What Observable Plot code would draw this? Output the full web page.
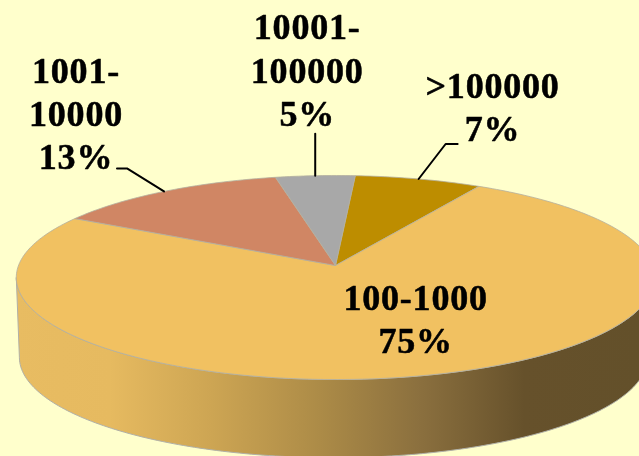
<!DOCTYPE html>
<html>
<head>
<meta charset="utf-8">
<script src="https://cdn.jsdelivr.net/npm/d3@7"></script>
<script src="https://cdn.jsdelivr.net/npm/@observablehq/plot@0.6"></script>
<style>
html,body{margin:0;padding:0;background:#FFFFCC;overflow:hidden}
svg{display:block;filter:blur(0.35px)}
</style>
</head>
<body>
<div id="chart"></div>
<script>
// Data
const categories = [">100000", "100-1000", "1001-\n10000", "10001-\n100000"];
const shares     = [7.2, 74.9, 13.4, 4.5];
const percentLabels = ["7%", "75%", "13%", "5%"];

// Style and layout
const colors = ["#BD8D00", "#F1C161", "#D08664", "#A8A8A8"];
const W = 639, H = 456, CX = 335, CY = 265;
const UX = 317, UY = 100.6, PERSP = 0.1176, DEPTH = 80;
const START = 4.0;
// pixel offsets of labels from each slice's rim point; null = no leader
const labelOffset = [[74, -73], [-14, -57], [-88, -79], [-8, -107]];
const leaderOffset = [[[27, -35], [39, -35]], null, [[-37, -23], [-47, -23]], [[0, -42]]];

const rad = d => d * Math.PI / 180;
// Clockwise-from-top angle on the tilted disc, projected with perspective.
function rim(deg, r = 1, drop = 0, shrink = 1, shift = 0) {
  const X = Math.sin(rad(deg)) * r, Y = Math.cos(rad(deg)) * r;
  const f = shrink / (1 + PERSP * Y);
  return {x: X * f + shift / UX, y: Y * f - drop / UY};
}
const arcPoints = (a, b, drop, shrink, shift) => {
  const n = Math.max(2, Math.ceil(Math.abs(b - a)));
  return d3.range(n + 1).map(i => rim(a + (b - a) * i / n, 1, drop, shrink, shift));
};

const arcs = d3.pie().sort(null).value(d => d)
  .startAngle(rad(START)).endAngle(rad(START + 360))(shares)
  .map(d => ({a: d.startAngle * 180 / Math.PI, b: d.endAngle * 180 / Math.PI}));

const slices = arcs.map(({a, b}) => {
  const pts = [{x: 0, y: 0}, ...arcPoints(a, b, 0, 1, 0), {x: 0, y: 0}];
  return pts;
});

const front = Math.asin(PERSP) * 180 / Math.PI;
const wallA = 90 + front, wallB = 270 - front;
const wall = [...arcPoints(wallA, wallB, 0, 1, 0), ...arcPoints(wallB, wallA, DEPTH, 0.984, -2)];
wall.push(wall[0]);

const gradient = () => {
  const g = d3.create("svg:defs");
  const lg = g.append("linearGradient").attr("id", "wallGrad")
    .attr("gradientUnits", "userSpaceOnUse")
    .attr("x1", 0).attr("x2", W).attr("y1", 0).attr("y2", 0);
  [[0.02, "#E8BC62"], [0.17, "#E6BA60"], [0.33, "#CDA553"], [0.5, "#AC8B47"],
   [0.66, "#8A6F3E"], [0.82, "#66512B"], [1, "#63502A"]]
    .forEach(([o, c]) => lg.append("stop").attr("offset", o).attr("stop-color", c));
  return g.node();
};

const labelMarks = arcs.map(({a, b}, i) => {
  const p = rim((a + b) / 2);
  return Plot.text([p], {
    x: "x", y: "y",
    text: () => categories[i] + "\n" + percentLabels[i],
    dx: labelOffset[i][0], dy: labelOffset[i][1],
    lineHeight: 1.2, textAnchor: "middle", frameAnchor: "middle",
    fill: "#000", stroke: "#000", strokeWidth: 0.5
  });
});

const leaderMarks = arcs.flatMap(({a, b}, i) => {
  if (!leaderOffset[i]) return [];
  const p = rim((a + b) / 2);
  const pts = [p, ...leaderOffset[i].map(([dx, dy]) => ({x: p.x + dx / UX, y: p.y - dy / UY}))];
  return [Plot.line(pts, {x: "x", y: "y", stroke: "#000", strokeWidth: 2, curve: "linear"})];
});

const chart = Plot.plot({
  width: W, height: H,
  marginTop: 0, marginRight: 0, marginBottom: 0, marginLeft: 0,
  x: {axis: null, domain: [-CX / UX, (W - CX) / UX], range: [0, W]},
  y: {axis: null, domain: [CY / UY, (CY - H) / UY], range: [0, H]},
  style: {background: "#FFFFCC", fontFamily: "'Liberation Serif', serif", fontWeight: "bold", fontSize: "36px", color: "#000", letterSpacing: "0.8px"},
  marks: [
    gradient,
    Plot.line(wall, {x: "x", y: "y", fill: "url(#wallGrad)", stroke: "#B0B0A8", strokeWidth: 1, curve: "linear"}),
    ...slices.map((pts, i) => Plot.line(pts, {x: "x", y: "y", fill: colors[i], stroke: "#B4B0A0", strokeWidth: 0.8, curve: "linear"})),
    ...leaderMarks,
    ...labelMarks
  ]
});
document.getElementById("chart").appendChild(chart);
</script>
</body>
</html>
